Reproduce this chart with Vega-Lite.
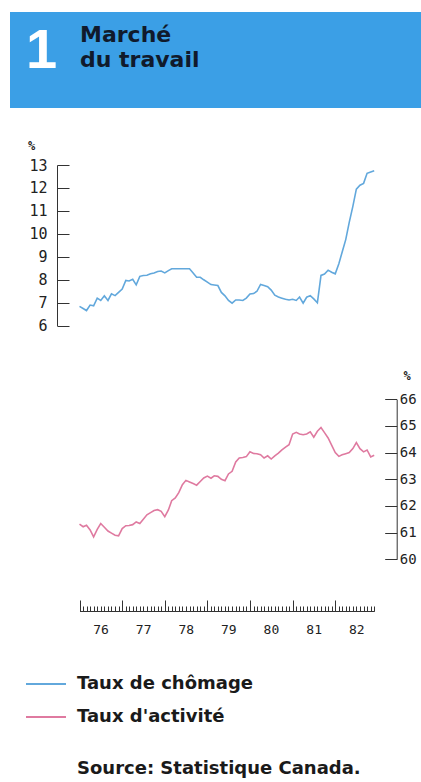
{
  "$schema": "https://vega.github.io/schema/vega-lite/v6.json",
  "background": "white",
  "padding": {"left": 10, "top": 12, "right": 0, "bottom": 0},
  "title": {"text": "1", "anchor": "start", "orient": "top", "offset": -68, "dx": 16, "font": "Liberation Sans", "fontSize": 56, "fontWeight": "bold", "color": "white", "zindex": 1},
  "spacing": 31,
  "vconcat": [
    {
      "width": 411,
      "height": 96,
      "data": {"values": [{"chapitre": "1", "titre": "Marché du travail"}]},
      "mark": {"type": "rect", "fill": "#3b9fe6"},
      "title": {"text": ["Marché", "du travail"], "anchor": "start", "frame": "group", "orient": "top", "offset": -60, "dx": 70, "font": "DejaVu Sans", "fontSize": 22, "fontWeight": "bold", "color": "#101a2c", "lineHeight": 25, "zindex": 1}
    },
    {
      "width": 411,
      "height": 446,
      "data": {"values": [
        {"date": "1976/01/01", "chomage": 6.84, "activite": 61.32},
        {"date": "1976/02/01", "chomage": 6.75, "activite": 61.22},
        {"date": "1976/03/01", "chomage": 6.66, "activite": 61.28},
        {"date": "1976/04/01", "chomage": 6.9, "activite": 61.1},
        {"date": "1976/05/01", "chomage": 6.87, "activite": 60.84},
        {"date": "1976/06/01", "chomage": 7.2, "activite": 61.12},
        {"date": "1976/07/01", "chomage": 7.1, "activite": 61.34},
        {"date": "1976/08/01", "chomage": 7.3, "activite": 61.2},
        {"date": "1976/09/01", "chomage": 7.1, "activite": 61.06},
        {"date": "1976/10/01", "chomage": 7.39, "activite": 60.98},
        {"date": "1976/11/01", "chomage": 7.31, "activite": 60.9},
        {"date": "1976/12/01", "chomage": 7.45, "activite": 60.88},
        {"date": "1977/01/01", "chomage": 7.6, "activite": 61.15},
        {"date": "1977/02/01", "chomage": 7.97, "activite": 61.26},
        {"date": "1977/03/01", "chomage": 7.95, "activite": 61.27},
        {"date": "1977/04/01", "chomage": 8.02, "activite": 61.3},
        {"date": "1977/05/01", "chomage": 7.78, "activite": 61.4},
        {"date": "1977/06/01", "chomage": 8.15, "activite": 61.34},
        {"date": "1977/07/01", "chomage": 8.19, "activite": 61.5},
        {"date": "1977/08/01", "chomage": 8.2, "activite": 61.67},
        {"date": "1977/09/01", "chomage": 8.26, "activite": 61.75},
        {"date": "1977/10/01", "chomage": 8.3, "activite": 61.83},
        {"date": "1977/11/01", "chomage": 8.36, "activite": 61.86},
        {"date": "1977/12/01", "chomage": 8.38, "activite": 61.8},
        {"date": "1978/01/01", "chomage": 8.3, "activite": 61.6},
        {"date": "1978/02/01", "chomage": 8.4, "activite": 61.85},
        {"date": "1978/03/01", "chomage": 8.48, "activite": 62.2},
        {"date": "1978/04/01", "chomage": 8.48, "activite": 62.3},
        {"date": "1978/05/01", "chomage": 8.48, "activite": 62.5},
        {"date": "1978/06/01", "chomage": 8.48, "activite": 62.8},
        {"date": "1978/07/01", "chomage": 8.48, "activite": 62.96},
        {"date": "1978/08/01", "chomage": 8.48, "activite": 62.9},
        {"date": "1978/09/01", "chomage": 8.3, "activite": 62.84},
        {"date": "1978/10/01", "chomage": 8.11, "activite": 62.78},
        {"date": "1978/11/01", "chomage": 8.11, "activite": 62.92},
        {"date": "1978/12/01", "chomage": 8.0, "activite": 63.05},
        {"date": "1979/01/01", "chomage": 7.9, "activite": 63.12},
        {"date": "1979/02/01", "chomage": 7.79, "activite": 63.04},
        {"date": "1979/03/01", "chomage": 7.77, "activite": 63.13},
        {"date": "1979/04/01", "chomage": 7.75, "activite": 63.11},
        {"date": "1979/05/01", "chomage": 7.45, "activite": 63.0},
        {"date": "1979/06/01", "chomage": 7.3, "activite": 62.95},
        {"date": "1979/07/01", "chomage": 7.1, "activite": 63.2},
        {"date": "1979/08/01", "chomage": 6.98, "activite": 63.3},
        {"date": "1979/09/01", "chomage": 7.12, "activite": 63.65},
        {"date": "1979/10/01", "chomage": 7.12, "activite": 63.8},
        {"date": "1979/11/01", "chomage": 7.1, "activite": 63.82},
        {"date": "1979/12/01", "chomage": 7.2, "activite": 63.85},
        {"date": "1980/01/01", "chomage": 7.38, "activite": 64.03},
        {"date": "1980/02/01", "chomage": 7.4, "activite": 63.97},
        {"date": "1980/03/01", "chomage": 7.5, "activite": 63.96},
        {"date": "1980/04/01", "chomage": 7.8, "activite": 63.92},
        {"date": "1980/05/01", "chomage": 7.75, "activite": 63.8},
        {"date": "1980/06/01", "chomage": 7.7, "activite": 63.88},
        {"date": "1980/07/01", "chomage": 7.55, "activite": 63.76},
        {"date": "1980/08/01", "chomage": 7.33, "activite": 63.88},
        {"date": "1980/09/01", "chomage": 7.25, "activite": 63.98},
        {"date": "1980/10/01", "chomage": 7.2, "activite": 64.1},
        {"date": "1980/11/01", "chomage": 7.15, "activite": 64.21},
        {"date": "1980/12/01", "chomage": 7.12, "activite": 64.3},
        {"date": "1981/01/01", "chomage": 7.15, "activite": 64.7},
        {"date": "1981/02/01", "chomage": 7.1, "activite": 64.76},
        {"date": "1981/03/01", "chomage": 7.25, "activite": 64.7},
        {"date": "1981/04/01", "chomage": 6.98, "activite": 64.67},
        {"date": "1981/05/01", "chomage": 7.24, "activite": 64.7},
        {"date": "1981/06/01", "chomage": 7.31, "activite": 64.78},
        {"date": "1981/07/01", "chomage": 7.17, "activite": 64.58},
        {"date": "1981/08/01", "chomage": 7.0, "activite": 64.8},
        {"date": "1981/09/01", "chomage": 8.19, "activite": 64.94},
        {"date": "1981/10/01", "chomage": 8.25, "activite": 64.75},
        {"date": "1981/11/01", "chomage": 8.42, "activite": 64.55},
        {"date": "1981/12/01", "chomage": 8.33, "activite": 64.28},
        {"date": "1982/01/01", "chomage": 8.26, "activite": 64.0},
        {"date": "1982/02/01", "chomage": 8.7, "activite": 63.86},
        {"date": "1982/03/01", "chomage": 9.2, "activite": 63.92},
        {"date": "1982/04/01", "chomage": 9.75, "activite": 63.96},
        {"date": "1982/05/01", "chomage": 10.5, "activite": 64.0},
        {"date": "1982/06/01", "chomage": 11.2, "activite": 64.15},
        {"date": "1982/07/01", "chomage": 11.95, "activite": 64.38},
        {"date": "1982/08/01", "chomage": 12.12, "activite": 64.15},
        {"date": "1982/09/01", "chomage": 12.2, "activite": 64.03},
        {"date": "1982/10/01", "chomage": 12.64, "activite": 64.1},
        {"date": "1982/11/01", "chomage": 12.7, "activite": 63.84},
        {"date": "1982/12/01", "chomage": 12.75, "activite": 63.9}
      ]},
      "title": {"text": "Source: Statistique Canada.", "orient": "bottom", "anchor": "start", "frame": "group", "font": "DejaVu Sans", "fontSize": 18, "fontWeight": "bold", "color": "#1a1a1a", "dx": 67, "offset": 124},
      "layer": [
        {
          "mark": {"type": "line", "strokeWidth": 1.6},
          "encoding": {
            "x": {"field": "date", "type": "temporal",
              "scale": {"domain": [{"year": 1976, "month": 1, "date": 1}, {"year": 1982, "month": 12, "date": 1}], "range": [69.5, 364.2]},
              "axis": {"orient": "bottom", "tickCount": {"interval": "month", "step": 1}, "labels": false, "domain": false, "tickSize": -5, "grid": false, "title": null, "tickColor": "#333"}},
            "y": {"field": "chomage", "type": "quantitative",
              "scale": {"domain": [6, 13], "range": [160.7, 0]},
              "axis": {"orient": "left", "offset": -47, "values": [6, 7, 8, 9, 10, 11, 12, 13], "tickSize": -12, "labelPadding": 22, "labelFont": "DejaVu Sans Mono", "labelFontSize": 15, "labelColor": "#222", "domainColor": "#333", "tickColor": "#333", "grid": false, "labelFlush": false, "labelOverlap": false,
                "title": "%", "titleX": -26, "titleY": -20, "titleAngle": 0, "titleAlign": "center", "titleBaseline": "middle", "titleFont": "DejaVu Sans Mono", "titleFontSize": 12, "titleFontWeight": "bold", "titleColor": "#222"}},
            "color": {"datum": "Taux de chômage",
              "scale": {"domain": ["Taux de chômage", "Taux d'activité"], "range": ["#62a8dc", "#df7aa0"]},
              "legend": {"orient": "none", "legendX": 15, "legendY": 651, "direction": "vertical", "title": null, "symbolType": "stroke", "symbolSize": 1600, "symbolStrokeWidth": 2, "labelFont": "DejaVu Sans", "labelFontSize": 18, "labelFontWeight": "bold", "labelColor": "#1a1a1a", "labelOffset": 10, "rowPadding": 3, "padding": 0, "labelLimit": 400}}
          }
        },
        {
          "mark": {"type": "line", "strokeWidth": 1.6},
          "encoding": {
            "x": {"field": "date", "type": "temporal",
              "axis": {"orient": "bottom", "values": [{"year": 1976, "month": 1, "date": 1}, {"year": 1977, "month": 1, "date": 1}, {"year": 1978, "month": 1, "date": 1}, {"year": 1979, "month": 1, "date": 1}, {"year": 1980, "month": 1, "date": 1}, {"year": 1981, "month": 1, "date": 1}, {"year": 1982, "month": 1, "date": 1}],
                "format": "%y", "tickSize": -11, "labelOffset": 21, "labelPadding": 23, "labelFont": "DejaVu Sans Mono", "labelFontSize": 13, "labelColor": "#222", "labelAngle": 0, "labelFlush": false, "labelOverlap": false, "domainColor": "#333", "tickColor": "#333", "grid": false, "title": null}},
            "y": {"field": "activite", "type": "quantitative",
              "scale": {"domain": [60, 66], "range": [394.3, 234.3]},
              "axis": {"orient": "right", "offset": -24.3, "values": [60, 61, 62, 63, 64, 65, 66], "tickSize": -12, "labelPadding": 14.5, "labelFont": "DejaVu Sans Mono", "labelFontSize": 14, "labelColor": "#222", "domainColor": "#333", "tickColor": "#333", "grid": false, "labelFlush": false, "labelOverlap": false,
                "title": "%", "titleX": 10, "titleY": 210, "titleAngle": 0, "titleAlign": "center", "titleBaseline": "middle", "titleFont": "DejaVu Sans Mono", "titleFontSize": 12, "titleFontWeight": "bold", "titleColor": "#222"}},
            "color": {"datum": "Taux d'activité"}
          }
        }
      ],
      "resolve": {"scale": {"y": "independent"}, "axis": {"x": "independent"}}
    }
  ],
  "config": {"view": {"stroke": null}}
}
